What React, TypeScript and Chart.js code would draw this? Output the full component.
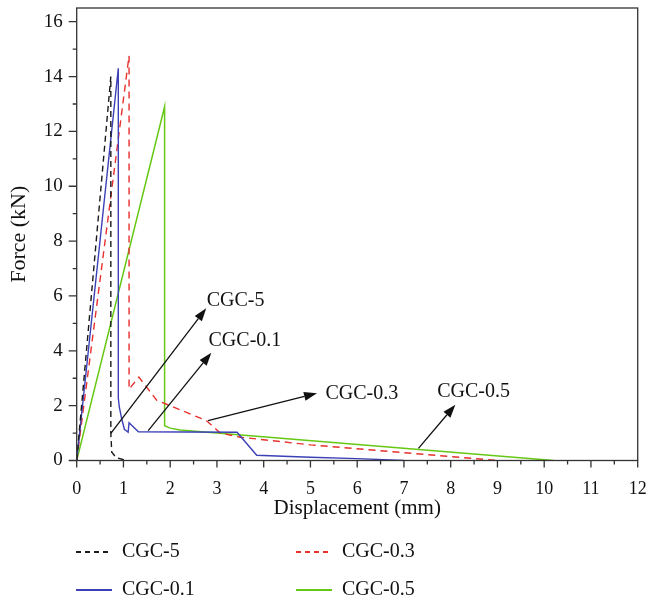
import React, { useEffect, useRef } from "react";
import { Chart, registerables } from "chart.js";
Chart.register(...registerables);

// ---- data ----
const SERIES_NAMES = ["CGC-5", "CGC-0.1", "CGC-0.3", "CGC-0.5"];

const CGC5_X = [0, 0.73, 0.73, 0.75, 0.85, 1.07];
const CGC5_Y = [0, 14.0, 1.0, 0.3, 0.1, 0.0];

const CGC01_X = [0, 0.89, 0.89, 0.91, 0.96, 1.02, 1.1, 1.12, 1.32, 3.43, 3.85, 5.0, 6.0, 7.0];
const CGC01_Y = [0, 14.3, 2.28, 1.96, 1.54, 1.14, 1.03, 1.38, 1.05, 1.03, 0.19, 0.12, 0.07, 0.0];

const CGC03_X = [0, 1.12, 1.12, 1.33, 1.71, 2.78, 3.07, 3.5, 5.0, 9.0];
const CGC03_Y = [0, 14.76, 2.6, 3.04, 2.2, 1.45, 1.0, 0.85, 0.57, 0.0];

const CGC05_X = [0, 1.88, 1.88, 2.0, 2.21, 10.2];
const CGC05_Y = [0, 12.9, 1.27, 1.18, 1.11, 0.0];

const X_TICKS = [0, 1, 2, 3, 4, 5, 6, 7, 8, 9, 10, 11, 12];
const Y_TICKS = [0, 2, 4, 6, 8, 10, 12, 14, 16];

// annotation arrows (data coordinates)
const ANNOT_LABELS = ["CGC-5", "CGC-0.1", "CGC-0.3", "CGC-0.5"];
const ARROW_FROM_X = [0.73, 1.53, 2.81, 7.31];
const ARROW_FROM_Y = [0.99, 1.09, 1.45, 0.445];
const ARROW_TO_X = [2.77, 2.88, 5.14, 8.1];
const ARROW_TO_Y = [5.55, 3.93, 2.45, 2.03];
const LABEL_X = [2.78, 2.82, 5.32, 7.71];
const LABEL_Y = [5.83, 4.37, 2.45, 2.51];

const COLORS = ["#1a1a1a", "#3b40b6", "#e8302c", "#66c814"];
const DASHES: number[][] = [[6, 4], [], [7, 5], []];
const WIDTHS = [1.4, 1.4, 1.4, 1.5];

const SERIF = "'Liberation Serif', 'DejaVu Serif', serif";

const toPts = (xs: number[], ys: number[]) => xs.map((x, i) => ({ x, y: ys[i] }));

const framePlugin = {
  id: "frameTicks",
  afterDatasetsDraw(chart: any) {
    const { ctx, chartArea: a, scales } = chart;
    const xs = scales.x;
    const ys = scales.y;
    ctx.save();
    ctx.strokeStyle = "#333";
    ctx.lineWidth = 1.3;
    ctx.setLineDash([]);
    ctx.strokeRect(a.left, a.top, a.right - a.left, a.bottom - a.top);
    ctx.beginPath();
    for (let v = 0; v <= 12.0001; v += 0.5) {
      const px = xs.getPixelForValue(v);
      const major = Math.abs(v - Math.round(v)) < 1e-6;
      ctx.moveTo(px, a.bottom);
      ctx.lineTo(px, a.bottom + (major ? 7 : 4));
    }
    for (let v = 0; v <= 16.0001; v += 1) {
      const py = ys.getPixelForValue(v);
      const major = v % 2 === 0;
      ctx.moveTo(a.left, py);
      ctx.lineTo(a.left - (major ? 8 : 4), py);
    }
    ctx.stroke();

    // annotations
    ctx.strokeStyle = "#111";
    ctx.fillStyle = "#111";
    ctx.lineWidth = 1.3;
    for (let i = 0; i < ANNOT_LABELS.length; i++) {
      const x0 = xs.getPixelForValue(ARROW_FROM_X[i]);
      const y0 = ys.getPixelForValue(ARROW_FROM_Y[i]);
      const x1 = xs.getPixelForValue(ARROW_TO_X[i]);
      const y1 = ys.getPixelForValue(ARROW_TO_Y[i]);
      const ang = Math.atan2(y1 - y0, x1 - x0);
      const L = 13;
      const W = 4.5;
      const bx = x1 - L * Math.cos(ang);
      const by = y1 - L * Math.sin(ang);
      ctx.beginPath();
      ctx.moveTo(x0, y0);
      ctx.lineTo(bx, by);
      ctx.stroke();
      ctx.beginPath();
      ctx.moveTo(x1, y1);
      ctx.lineTo(bx + W * Math.sin(ang), by - W * Math.cos(ang));
      ctx.lineTo(bx - W * Math.sin(ang), by + W * Math.cos(ang));
      ctx.closePath();
      ctx.fill();
      ctx.font = `20px ${SERIF}`;
      ctx.textAlign = "left";
      ctx.textBaseline = "middle";
      ctx.fillText(ANNOT_LABELS[i], xs.getPixelForValue(LABEL_X[i]), ys.getPixelForValue(LABEL_Y[i]));
    }
    ctx.restore();
  },
  afterDraw(chart: any) {
    const { ctx } = chart;
    const order = [0, 2, 1, 3];
    const cols = [76, 296];
    const rows = [552, 590];
    ctx.save();
    order.forEach((di, k) => {
      const ds = chart.data.datasets[di];
      const cx = cols[k % 2];
      const cy = rows[Math.floor(k / 2)];
      ctx.strokeStyle = ds.borderColor;
      ctx.lineWidth = 2;
      ctx.setLineDash(ds.borderDash && ds.borderDash.length ? [5, 4] : []);
      ctx.beginPath();
      ctx.moveTo(cx, cy);
      ctx.lineTo(cx + 36, cy);
      ctx.stroke();
      ctx.setLineDash([]);
      ctx.fillStyle = "#111";
      ctx.font = `20px ${SERIF}`;
      ctx.textAlign = "left";
      ctx.textBaseline = "middle";
      ctx.fillText(ds.label, cx + 46, cy);
    });
    ctx.restore();
  },
};

const zeroPad = (s: any) => {
  s.paddingTop = 0;
  s.paddingBottom = 0;
  s.paddingLeft = 0;
  s.paddingRight = 0;
};

export default function App() {
  const ref = useRef<HTMLCanvasElement | null>(null);
  useEffect(() => {
    if (!ref.current) return;
    const seriesX = [CGC5_X, CGC01_X, CGC03_X, CGC05_X];
    const seriesY = [CGC5_Y, CGC01_Y, CGC03_Y, CGC05_Y];
    const chart = new Chart(ref.current, {
      type: "scatter",
      data: {
        datasets: SERIES_NAMES.map((name, i) => ({
          label: name,
          data: toPts(seriesX[i], seriesY[i]),
          showLine: true,
          borderColor: COLORS[i],
          backgroundColor: COLORS[i],
          borderWidth: WIDTHS[i],
          borderDash: DASHES[i],
          pointRadius: 0,
          tension: 0,
          fill: false,
        })),
      },
      options: {
        responsive: false,
        animation: false,
        events: [],
        layout: { padding: { left: 0, right: 12.3, top: 8, bottom: 0 } },
        plugins: { legend: { display: false }, tooltip: { enabled: false } },
        scales: {
          x: {
            type: "linear",
            min: 0,
            max: 12,
            afterFit: (s: any) => {
              s.height = 139.5;
              zeroPad(s);
            },
            afterBuildTicks: (s: any) => {
              s.ticks = X_TICKS.map((v) => ({ value: v }));
            },
            grid: { display: false, drawTicks: false },
            border: { display: false },
            ticks: {
              padding: 18,
              color: "#111",
              font: { family: SERIF, size: 18 },
              maxRotation: 0,
              autoSkip: false,
            },
            title: {
              display: true,
              text: "Displacement (mm)",
              color: "#111",
              font: { family: SERIF, size: 21 },
              padding: { top: 0, bottom: 79 },
            },
          },
          y: {
            type: "linear",
            min: 0,
            max: 16.5,
            afterFit: (s: any) => {
              s.width = 76.7;
              zeroPad(s);
            },
            afterBuildTicks: (s: any) => {
              s.ticks = Y_TICKS.map((v) => ({ value: v }));
            },
            grid: { display: false, drawTicks: false },
            border: { display: false },
            ticks: {
              padding: 14,
              color: "#111",
              font: { family: SERIF, size: 19 },
              autoSkip: false,
            },
            title: {
              display: true,
              text: "Force (kN)",
              color: "#111",
              font: { family: SERIF, size: 22 },
              padding: { top: 6, bottom: 0 },
            },
          },
        },
      },
      plugins: [framePlugin],
    });
    return () => chart.destroy();
  }, []);
  return (
    <div style={{ position: "absolute", left: 0, top: 0, width: 650, height: 600, background: "#fff" }}>
      <canvas ref={ref} width={650} height={600} style={{ display: "block" }} />
    </div>
  );
}
